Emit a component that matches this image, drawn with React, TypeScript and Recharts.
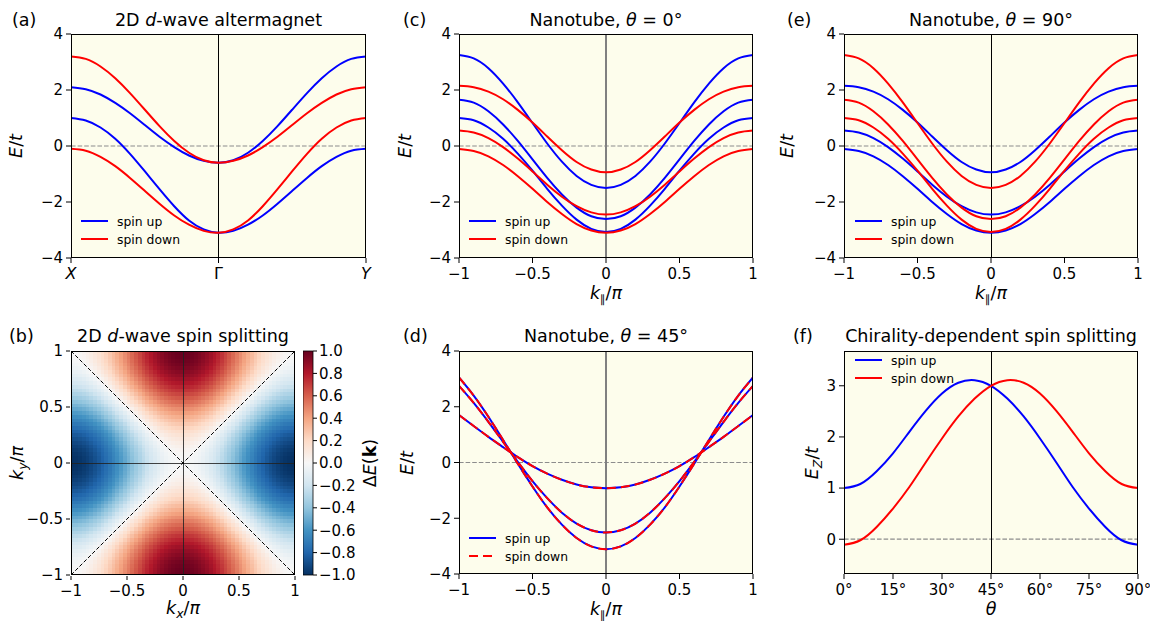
import React from 'react';
import {
  LineChart, Line, XAxis, YAxis, ReferenceLine, ScatterChart, Scatter,
  ComposedChart, ReferenceArea,
} from 'recharts';

const FONT = 'DejaVu Sans, sans-serif';
const BG = '#fdfdec';
const BLUE = '#0000ff';
const RED = '#ff0000';

// ---------- panel (a): 2D d-wave altermagnet, path X -> Gamma -> Y ----------
const pathPos = [0, 1, 2, 3, 4, 5, 6, 7, 8, 9, 10, 11, 12, 13, 14, 15, 16, 17, 18, 19, 20];
const pathTickPos = [0, 10, 20];
const pathTickLabels = ['X', 'Γ', 'Y'];
const aUp1 = [2.10, 2.03, 1.84, 1.54, 1.17, 0.75, 0.33, -0.04, -0.34, -0.53, -0.60, -0.51, -0.24, 0.18, 0.71, 1.30, 1.89, 2.42, 2.84, 3.11, 3.20];
const aUp2 = [1.00, 0.91, 0.66, 0.26, -0.28, -0.90, -1.54, -2.15, -2.66, -2.98, -3.10, -3.03, -2.81, -2.48, -2.06, -1.60, -1.14, -0.72, -0.39, -0.17, -0.10];
const aDown1 = [3.20, 3.11, 2.84, 2.42, 1.89, 1.30, 0.71, 0.18, -0.24, -0.51, -0.60, -0.53, -0.34, -0.04, 0.33, 0.75, 1.17, 1.54, 1.84, 2.03, 2.10];
const aDown2 = [-0.10, -0.17, -0.39, -0.72, -1.14, -1.60, -2.06, -2.48, -2.81, -3.03, -3.10, -2.98, -2.66, -2.15, -1.54, -0.90, -0.28, 0.26, 0.66, 0.91, 1.00];

// ---------- nanotube panels: k_parallel / pi ----------
const kGrid = [-1, -0.9, -0.8, -0.7, -0.6, -0.5, -0.4, -0.3, -0.2, -0.1, 0, 0.1, 0.2, 0.3, 0.4, 0.5, 0.6, 0.7, 0.8, 0.9, 1];
// (c) theta = 0
const cUp1 = [3.25, 3.13, 2.78, 2.23, 1.56, 0.82, 0.09, -0.56, -1.07, -1.39, -1.50, -1.39, -1.07, -0.56, 0.09, 0.82, 1.56, 2.23, 2.78, 3.13, 3.25];
const cUp2 = [1.65, 1.55, 1.24, 0.77, 0.18, -0.48, -1.14, -1.73, -2.20, -2.51, -2.61, -2.51, -2.20, -1.73, -1.14, -0.48, 0.18, 0.77, 1.24, 1.55, 1.65];
const cUp3 = [1.00, 0.92, 0.66, 0.26, -0.27, -0.88, -1.53, -2.13, -2.63, -2.96, -3.07, -2.96, -2.63, -2.13, -1.53, -0.88, -0.27, 0.26, 0.66, 0.92, 1.00];
const cDown1 = [2.15, 2.10, 1.94, 1.67, 1.29, 0.84, 0.34, -0.15, -0.57, -0.84, -0.94, -0.84, -0.57, -0.15, 0.34, 0.84, 1.29, 1.67, 1.94, 2.10, 2.15];
const cDown2 = [0.55, 0.48, 0.28, -0.04, -0.45, -0.91, -1.38, -1.81, -2.15, -2.37, -2.45, -2.37, -2.15, -1.81, -1.38, -0.91, -0.45, -0.04, 0.28, 0.48, 0.55];
const cDown3 = [-0.11, -0.18, -0.37, -0.68, -1.08, -1.53, -2.00, -2.43, -2.79, -3.02, -3.10, -3.02, -2.79, -2.43, -2.00, -1.53, -1.08, -0.68, -0.37, -0.18, -0.11];
// (e) theta = 90: same curves as (c) with the spins exchanged
const eUp1 = cDown1;
const eUp2 = cDown2;
const eUp3 = cDown3;
const eDown1 = cUp1;
const eDown2 = cUp2;
const eDown3 = cUp3;
// (d) theta = 45: spin degenerate
const d1 = [1.70, 1.31, 0.92, 0.55, 0.19, -0.13, -0.40, -0.62, -0.79, -0.89, -0.92, -0.89, -0.79, -0.62, -0.40, -0.13, 0.19, 0.55, 0.92, 1.31, 1.70];
const d2 = [2.75, 2.14, 1.46, 0.74, 0.02, -0.67, -1.28, -1.80, -2.19, -2.43, -2.51, -2.43, -2.19, -1.80, -1.28, -0.67, 0.02, 0.74, 1.46, 2.14, 2.75];
const d3 = [3.05, 2.40, 1.64, 0.81, -0.04, -0.86, -1.61, -2.23, -2.71, -3.01, -3.11, -3.01, -2.71, -2.23, -1.61, -0.86, -0.04, 0.81, 1.64, 2.40, 3.05];

// ---------- (f) chirality dependence ----------
const thetaDeg = [0, 5, 10, 15, 20, 25, 30, 35, 40, 45, 50, 55, 60, 65, 70, 75, 80, 85, 90];
const fUp = [1.00, 1.08, 1.33, 1.68, 2.10, 2.51, 2.85, 3.06, 3.11, 3.00, 2.75, 2.40, 1.97, 1.50, 1.02, 0.60, 0.24, -0.02, -0.11];
const fDown = [-0.11, -0.02, 0.24, 0.60, 1.02, 1.50, 1.97, 2.40, 2.75, 3.00, 3.11, 3.06, 2.85, 2.51, 2.10, 1.68, 1.33, 1.08, 1.00];

// ---------- (b) heat map: band profile along each k axis ----------
const cosProfile = [
  -0.9986, -0.9877, -0.9659, -0.9336, -0.8910, -0.8387, -0.7771, -0.7071, -0.6293, -0.5446,
  -0.4540, -0.3584, -0.2588, -0.1564, -0.0523, 0.0523, 0.1564, 0.2588, 0.3584, 0.4540,
  0.5446, 0.6293, 0.7071, 0.7771, 0.8387, 0.8910, 0.9336, 0.9659, 0.9877, 0.9986,
  0.9986, 0.9877, 0.9659, 0.9336, 0.8910, 0.8387, 0.7771, 0.7071, 0.6293, 0.5446,
  0.4540, 0.3584, 0.2588, 0.1564, 0.0523, -0.0523, -0.1564, -0.2588, -0.3584, -0.4540,
  -0.5446, -0.6293, -0.7071, -0.7771, -0.8387, -0.8910, -0.9336, -0.9659, -0.9877, -0.9986,
];

// ---------- ticks ----------
const kTicks = [-1, -0.5, 0, 0.5, 1];
const eTicks = [-4, -2, 0, 2, 4];
const fTicksX = [0, 15, 30, 45, 60, 75, 90];
const fTicksY = [0, 1, 2, 3];
const cbTicks = [-1, -0.8, -0.6, -0.4, -0.2, 0, 0.2, 0.4, 0.6, 0.8, 1];

const RDBU_R = ['#053061', '#2166ac', '#4393c3', '#92c5de', '#d1e5f0', '#f7f7f7', '#fddbc7', '#f4a582', '#d6604d', '#b2182b', '#67001f'];

function hexToRgb(h: string) {
  return [parseInt(h.slice(1, 3), 16), parseInt(h.slice(3, 5), 16), parseInt(h.slice(5, 7), 16)];
}
function cmap(v: number) {
  const t = Math.max(0, Math.min(10, ((v + 1) / 2) * 10));
  const i = Math.min(9, Math.floor(t));
  const f = t - i;
  const a = hexToRgb(RDBU_R[i]);
  const b = hexToRgb(RDBU_R[i + 1]);
  const c = a.map((av, k) => Math.round(av + (b[k] - av) * f));
  return `rgb(${c[0]},${c[1]},${c[2]})`;
}

const minus = (v: number) => (v < 0 ? '\u2212' : '') + String(Math.abs(v));
const minus1 = (v: number) => (v < -1e-9 ? '\u2212' : '') + Math.abs(v).toFixed(1);
const deg = (v: number) => `${v}°`;

const tickStyle = { fontSize: 15, fill: '#000', fontFamily: FONT };

const ML = 60, MT = 10, MR = 12, MB = 40;

type Series = { key: string; values: number[]; color: string; dash?: string };

function PathTick(props: any) {
  const { x, y, payload } = props;
  const idx = pathTickPos.indexOf(payload.value);
  const label = pathTickLabels[idx];
  return (
    <text x={x} y={y} dy="0.71em" textAnchor="middle" fontSize={16} fontFamily={FONT}
      fontStyle={label === 'Γ' ? 'normal' : 'italic'} fill="#000">{label}</text>
  );
}

function BandPanel(props: {
  left: number; top: number; w: number; h: number; xs: number[]; series: Series[];
  xDomain: [number, number]; xTicks: number[]; xTick?: any; xFmt?: (v: number) => string;
  yDomain: [number, number]; yTicks: number[]; yFmt: (v: number) => string;
  vline: number; vStroke: string; vWidth: number;
}) {
  const data = props.xs.map((x, i) => {
    const row: any = { x };
    props.series.forEach((s) => { row[s.key] = s.values[i]; });
    return row;
  });
  return (
    <>
      <div style={{ position: 'absolute', left: props.left, top: props.top, width: props.w, height: props.h, background: BG }} />
      <div style={{ position: 'absolute', left: props.left - ML, top: props.top - MT }}>
        <LineChart width={props.w + ML + MR} height={props.h + MT + MB} data={data}
          margin={{ top: MT, right: MR, bottom: 0, left: 0 }}>
          <XAxis dataKey="x" type="number" domain={props.xDomain} ticks={props.xTicks} interval={0}
            allowDataOverflow height={MB} tickSize={5} tickMargin={5} axisLine={false}
            tickLine={{ stroke: '#000' }} tick={props.xTick ?? tickStyle} tickFormatter={props.xFmt} />
          <YAxis type="number" domain={props.yDomain} ticks={props.yTicks} interval={0}
            allowDataOverflow width={ML} tickSize={5} tickMargin={3} axisLine={false}
            tickLine={{ stroke: '#000' }} tick={tickStyle} tickFormatter={props.yFmt} />
          <ReferenceLine y={0} stroke="#8c8c8c" strokeWidth={1.2} strokeDasharray="4.6 2" />
          <ReferenceLine x={props.vline} stroke={props.vStroke} strokeWidth={props.vWidth}
            shapeRendering={props.vWidth <= 1 ? 'crispEdges' : undefined} />
          {props.series.map((s) => (
            <Line key={s.key} dataKey={s.key} type="natural" stroke={s.color} strokeWidth={2}
              strokeDasharray={s.dash} dot={false} isAnimationActive={false} />
          ))}
        </LineChart>
      </div>
      <div style={{ position: 'absolute', left: props.left, top: props.top, width: props.w, height: props.h, border: '1px solid #000', boxSizing: 'border-box' }} />
    </>
  );
}

function HeatCell(props: any) {
  const { cx, cy, payload } = props;
  return <rect x={cx - 2.2} y={cy - 2.2} width={4.4} height={4.4} fill={cmap(payload.v)} shapeRendering="crispEdges" />;
}

function HeatPanel() {
  const left = 71, top = 351, w = 224, h = 224;
  const centers = cosProfile.map((_, i) => -1 + (2 * i + 1) / cosProfile.length);
  const cells: any[] = [];
  cosProfile.forEach((px, i) => {
    cosProfile.forEach((py, j) => {
      cells.push({ x: centers[i], y: centers[j], v: (px - py) / 2 });
    });
  });
  return (
    <>
      <div style={{ position: 'absolute', left: left - ML, top: top - MT }}>
        <ScatterChart width={w + ML + MR} height={h + MT + MB} margin={{ top: MT, right: MR, bottom: 0, left: 0 }}>
          <XAxis dataKey="x" type="number" domain={[-1, 1]} ticks={kTicks} interval={0} allowDataOverflow
            height={MB} tickSize={5} tickMargin={5} axisLine={false} tickLine={{ stroke: '#000' }}
            tick={tickStyle} tickFormatter={minus} />
          <YAxis dataKey="y" type="number" domain={[-1, 1]} ticks={kTicks} interval={0} allowDataOverflow
            width={ML} tickSize={5} tickMargin={3} axisLine={false} tickLine={{ stroke: '#000' }}
            tick={tickStyle} tickFormatter={minus} />
          <Scatter data={cells} shape={HeatCell} isAnimationActive={false} />
        </ScatterChart>
      </div>
      {/* mask the sub-pixel cell overflow around the map */}
      <div style={{ position: 'absolute', left: left - 1, top: top - 1, width: w + 2, height: h + 2, boxSizing: 'border-box', border: '1px solid #fff' }} />
      <div style={{ position: 'absolute', left: left - ML, top: top - MT }}>
        <LineChart width={w + ML + MR} height={h + MT + MB} data={[{ x: -1, y: -1 }, { x: 1, y: 1 }]}
          margin={{ top: MT, right: MR, bottom: MB, left: ML }}>
          <XAxis dataKey="x" type="number" domain={[-1, 1]} hide allowDataOverflow />
          <YAxis type="number" domain={[-1, 1]} hide allowDataOverflow />
          <ReferenceLine x={0} stroke="#222" strokeWidth={1} strokeOpacity={0.85} shapeRendering="crispEdges" />
          <ReferenceLine y={0} stroke="#222" strokeWidth={1} strokeOpacity={0.85} shapeRendering="crispEdges" />
          <ReferenceLine segment={[{ x: -1, y: -1 }, { x: 1, y: 1 }]} stroke="#000" strokeWidth={1} strokeDasharray="4 2" />
          <ReferenceLine segment={[{ x: -1, y: 1 }, { x: 1, y: -1 }]} stroke="#000" strokeWidth={1} strokeDasharray="4 2" />
        </LineChart>
      </div>
      <div style={{ position: 'absolute', left, top, width: w, height: h, border: '1px solid #000', boxSizing: 'border-box' }} />
      {/* colorbar */}
      <div style={{ position: 'absolute', left: 303, top: top - MT }}>
        <ComposedChart width={10 + 60} height={h + 2 * MT} data={[{ x: 0 }, { x: 1 }]}
          margin={{ top: MT, right: 0, bottom: MT, left: 0 }}>
          <defs>
            <linearGradient id="cbGrad" x1="0" y1="1" x2="0" y2="0">
              {RDBU_R.map((c, i) => <stop key={i} offset={i / 10} stopColor={c} />)}
            </linearGradient>
          </defs>
          <XAxis dataKey="x" type="number" domain={[0, 1]} hide />
          <YAxis orientation="right" type="number" domain={[-1, 1]} ticks={cbTicks} interval={0}
            allowDataOverflow width={60} tickSize={4} tickMargin={2} axisLine={false}
            tickLine={{ stroke: '#000' }} tick={tickStyle} tickFormatter={minus1} />
          <ReferenceArea x1={0} x2={1} y1={-1} y2={1} fill="url(#cbGrad)" fillOpacity={1} stroke="#000" strokeWidth={0.8} />
        </ComposedChart>
      </div>
    </>
  );
}

function Legend2(props: { x: number; y: number; dashDown?: boolean }) {
  const { x, y } = props;
  return (
    <g>
      <line x1={x} x2={x + 27} y1={y} y2={y} stroke={BLUE} strokeWidth={2} />
      <text x={x + 36} y={y + 4.5} fontSize={12.4}>spin up</text>
      <line x1={x} x2={x + 27} y1={y + 18} y2={y + 18} stroke={RED} strokeWidth={2}
        strokeDasharray={props.dashDown ? '9 5' : undefined} />
      <text x={x + 36} y={y + 22.5} fontSize={12.4}>spin down</text>
    </g>
  );
}

function YLabel(props: { x: number; y: number; children: any }) {
  return (
    <text x={props.x} y={props.y} transform={`rotate(-90 ${props.x} ${props.y})`} textAnchor="middle" fontSize={17.5}>
      {props.children}
    </text>
  );
}

const It = (p: { children: any }) => <tspan fontStyle="italic">{p.children}</tspan>;

export default function App() {
  const W = 295, H = 224;
  return (
    <div style={{ position: 'absolute', left: 0, top: 0, width: 1153, height: 621, background: '#fff', fontFamily: FONT, overflow: 'hidden' }}>
      {/* (a) */}
      <BandPanel left={71} top={34} w={W} h={H} xs={pathPos}
        series={[
          { key: 'u1', values: aUp1, color: BLUE }, { key: 'u2', values: aUp2, color: BLUE },
          { key: 'd1', values: aDown1, color: RED }, { key: 'd2', values: aDown2, color: RED },
        ]}
        xDomain={[0, 20]} xTicks={pathTickPos} xTick={<PathTick />}
        yDomain={[-4, 4]} yTicks={eTicks} yFmt={minus} vline={10} vStroke="#000" vWidth={1} />
      {/* (c) */}
      <BandPanel left={459} top={34} w={294} h={H} xs={kGrid}
        series={[
          { key: 'u1', values: cUp1, color: BLUE }, { key: 'u2', values: cUp2, color: BLUE }, { key: 'u3', values: cUp3, color: BLUE },
          { key: 'd1', values: cDown1, color: RED }, { key: 'd2', values: cDown2, color: RED }, { key: 'd3', values: cDown3, color: RED },
        ]}
        xDomain={[-1, 1]} xTicks={kTicks} xFmt={minus}
        yDomain={[-4, 4]} yTicks={eTicks} yFmt={minus} vline={0} vStroke="#808080" vWidth={2} />
      {/* (e) */}
      <BandPanel left={844} top={34} w={294} h={H} xs={kGrid}
        series={[
          { key: 'u1', values: eUp1, color: BLUE }, { key: 'u2', values: eUp2, color: BLUE }, { key: 'u3', values: eUp3, color: BLUE },
          { key: 'd1', values: eDown1, color: RED }, { key: 'd2', values: eDown2, color: RED }, { key: 'd3', values: eDown3, color: RED },
        ]}
        xDomain={[-1, 1]} xTicks={kTicks} xFmt={minus}
        yDomain={[-4, 4]} yTicks={eTicks} yFmt={minus} vline={0} vStroke="#000" vWidth={1} />
      {/* (b) */}
      <HeatPanel />
      {/* (d) */}
      <BandPanel left={459} top={351} w={294} h={223} xs={kGrid}
        series={[
          { key: 'u1', values: d1, color: BLUE }, { key: 'u2', values: d2, color: BLUE }, { key: 'u3', values: d3, color: BLUE },
          { key: 'd1', values: d1, color: RED, dash: '9 5' }, { key: 'd2', values: d2, color: RED, dash: '9 5' }, { key: 'd3', values: d3, color: RED, dash: '9 5' },
        ]}
        xDomain={[-1, 1]} xTicks={kTicks} xFmt={minus}
        yDomain={[-4, 4]} yTicks={eTicks} yFmt={minus} vline={0} vStroke="#808080" vWidth={2} />
      {/* (f) */}
      <BandPanel left={844} top={351} w={294} h={223} xs={thetaDeg}
        series={[{ key: 'u', values: fUp, color: BLUE }, { key: 'd', values: fDown, color: RED }]}
        xDomain={[0, 90]} xTicks={fTicksX} xFmt={deg}
        yDomain={[-0.68, 3.68]} yTicks={fTicksY} yFmt={minus} vline={45} vStroke="#000" vWidth={1} />

      {/* text overlay */}
      <svg width={1153} height={621} style={{ position: 'absolute', left: 0, top: 0, pointerEvents: 'none' }} fontFamily={FONT} fill="#000">
        {/* panel letters */}
        <text x={12} y={26} fontSize={17.5}>(a)</text>
        <text x={403} y={26} fontSize={17.5}>(c)</text>
        <text x={787} y={26} fontSize={17.5}>(e)</text>
        <text x={9} y={342} fontSize={17.5}>(b)</text>
        <text x={403} y={342} fontSize={17.5}>(d)</text>
        <text x={793} y={342} fontSize={17.5}>(f)</text>
        {/* titles */}
        <text x={218.5} y={26} textAnchor="middle" fontSize={17.5}>{'2D '}<It>d</It>{'-wave altermagnet'}</text>
        <text x={606} y={26} textAnchor="middle" fontSize={17.5}>{'Nanotube, '}<It>θ</It>{' = 0°'}</text>
        <text x={991} y={26} textAnchor="middle" fontSize={17.5}>{'Nanotube, '}<It>θ</It>{' = 90°'}</text>
        <text x={183} y={342} textAnchor="middle" fontSize={17.5}>{'2D '}<It>d</It>{'-wave spin splitting'}</text>
        <text x={606} y={342} textAnchor="middle" fontSize={17.5}>{'Nanotube, '}<It>θ</It>{' = 45°'}</text>
        <text x={991} y={342} textAnchor="middle" fontSize={17.5}>Chirality-dependent spin splitting</text>
        {/* x labels */}
        <text x={606} y={299} textAnchor="middle" fontSize={17.5}><It>k</It><tspan fontSize={11} dy={4}>∥</tspan><tspan dy={-4}>/</tspan><It>π</It></text>
        <text x={991} y={299} textAnchor="middle" fontSize={17.5}><It>k</It><tspan fontSize={11} dy={4}>∥</tspan><tspan dy={-4}>/</tspan><It>π</It></text>
        <text x={606} y={615} textAnchor="middle" fontSize={17.5}><It>k</It><tspan fontSize={11} dy={4}>∥</tspan><tspan dy={-4}>/</tspan><It>π</It></text>
        <text x={183} y={614} textAnchor="middle" fontSize={17.5}><It>k</It><tspan fontSize={12.5} fontStyle="italic" dy={4}>x</tspan><tspan dy={-4}>/</tspan><It>π</It></text>
        <text x={991} y={615} textAnchor="middle" fontSize={17.5}><It>θ</It></text>
        {/* y labels */}
        <YLabel x={22} y={146}><It>E</It>/<It>t</It></YLabel>
        <YLabel x={411} y={146}><It>E</It>/<It>t</It></YLabel>
        <YLabel x={793} y={146}><It>E</It>/<It>t</It></YLabel>
        <YLabel x={413} y={463}><It>E</It>/<It>t</It></YLabel>
        <YLabel x={23} y={463}><It>k</It><tspan fontSize={12.5} fontStyle="italic" dy={4}>y</tspan><tspan dy={-4}>/</tspan><It>π</It></YLabel>
        <YLabel x={818} y={463}><It>E</It><tspan fontSize={12.5} fontStyle="italic" dy={4}>Z</tspan><tspan dy={-4}>/</tspan><It>t</It></YLabel>
        <YLabel x={376} y={463}>{'Δ'}<It>E</It>{'('}<tspan fontWeight="bold">k</tspan>{')'}</YLabel>
        {/* legends */}
        <Legend2 x={81} y={221} />
        <Legend2 x={469} y={221} />
        <Legend2 x={855} y={221} />
        <Legend2 x={469} y={538} dashDown />
        <Legend2 x={855} y={360} />
      </svg>
    </div>
  );
}
